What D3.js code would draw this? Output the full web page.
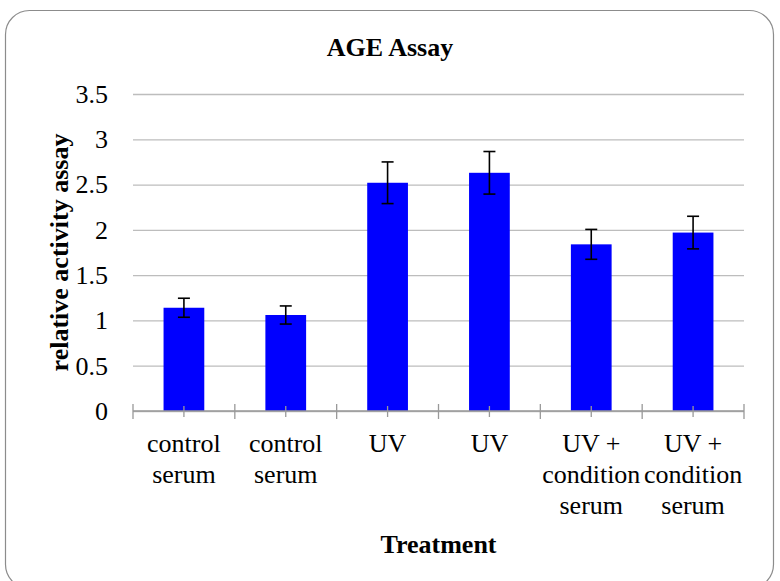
<!DOCTYPE html>
<head>
    <meta charset="UTF-8">
    <title>AGE Assay</title>
    <style>
        body { margin: 0; background: #fff; }
        svg text { font-family: "Liberation Serif", "Times New Roman", Times, serif !important; }
    </style>
</head>
<body>
    <script src="https://d3js.org/d3.v7.min.js"></script>
    <script>
        // data
        var labelLines = [
            ["control", "serum"],
            ["control", "serum"],
            ["UV"],
            ["UV"],
            ["UV +", "condition", "serum"],
            ["UV +", "condition", "serum"]
        ]
        var values = [1.14, 1.06, 2.52, 2.63, 1.84, 1.97]
        var errors = [0.105, 0.10, 0.23, 0.235, 0.165, 0.18]
        var yTicks = [0, 0.5, 1, 1.5, 2, 2.5, 3, 3.5]

        var width = 780
        var height = 581
        var plot = { left: 133, right: 744, top: 94, bottom: 411 } // plot area
        var serif = "Liberation Serif, Times New Roman, serif"

        var svg = d3.select("body")
            .append("svg")
            .attr("width", width)
            .attr("height", height)
            .attr("font-family", serif)

        // rounded frame
        svg.append("rect")
            .attr("x", 5.5).attr("y", 10.5)
            .attr("width", 768).attr("height", 578)
            .attr("rx", 24)
            .attr("fill", "#fff")
            .attr("stroke", "#8c8c8c")
            .attr("stroke-width", 1.2)

        var x = d3.scaleBand()
            .domain(d3.range(values.length))
            .range([plot.left, plot.right])
            .paddingInner(0.6)
            .paddingOuter(0.3)

        var y = d3.scaleLinear()
            .domain([0, 3.5])
            .range([plot.bottom, plot.top])

        // gridlines + y labels
        var yAxis = d3.axisLeft(y)
            .tickValues(yTicks)
            .tickSize(-(plot.right - plot.left))
            .tickPadding(25)
            .tickFormat(d3.format("~g"))

        var gy = svg.append("g")
            .attr("transform", "translate(" + plot.left + ",0)")
            .call(yAxis)
            .attr("font-family", serif)
            .attr("font-size", 26)
        gy.select(".domain").remove()
        gy.selectAll(".tick line").attr("stroke", "#bdbdbd").attr("stroke-width", 1.3)
        gy.selectAll(".tick text")
            .attr("fill", "#000")
            .attr("font-family", serif)

        // bars
        svg.selectAll("rect.bar").data(values).enter()
            .append("rect")
            .attr("class", "bar")
            .attr("x", function(d, i) { return x(i) })
            .attr("y", function(d) { return y(d) })
            .attr("width", x.bandwidth())
            .attr("height", function(d) { return y(0) - y(d) })
            .attr("fill", "#0000ff")

        // x axis line and ticks
        svg.append("line")
            .attr("x1", plot.left).attr("x2", plot.right)
            .attr("y1", plot.bottom).attr("y2", plot.bottom)
            .attr("stroke", "#999").attr("stroke-width", 1.3)

        var bounds = d3.range(values.length + 1).map(function(i) {
            return x.range()[0] + i * x.step()
        })
        svg.selectAll("line.btick").data(bounds).enter()
            .append("line")
            .attr("x1", function(d) { return d }).attr("x2", function(d) { return d })
            .attr("y1", plot.bottom - 7).attr("y2", plot.bottom + 8)
            .attr("stroke", "#999").attr("stroke-width", 1.3)

        svg.selectAll("line.ctick").data(values).enter()
            .append("line")
            .attr("x1", function(d, i) { return x(i) + x.bandwidth() / 2 })
            .attr("x2", function(d, i) { return x(i) + x.bandwidth() / 2 })
            .attr("y1", plot.bottom - 5).attr("y2", plot.bottom + 6)
            .attr("stroke", "#999").attr("stroke-width", 1.3)

        // error bars
        var capW = 6
        var eb = svg.selectAll("g.err").data(values).enter()
            .append("g")
            .attr("stroke", "#000")
            .attr("stroke-width", 1.6)
        eb.append("line")
            .attr("x1", function(d, i) { return x(i) + x.bandwidth() / 2 })
            .attr("x2", function(d, i) { return x(i) + x.bandwidth() / 2 })
            .attr("y1", function(d, i) { return y(d + errors[i]) })
            .attr("y2", function(d, i) { return y(d - errors[i]) })
        eb.append("line")
            .attr("x1", function(d, i) { return x(i) + x.bandwidth() / 2 - capW })
            .attr("x2", function(d, i) { return x(i) + x.bandwidth() / 2 + capW })
            .attr("y1", function(d, i) { return y(d + errors[i]) })
            .attr("y2", function(d, i) { return y(d + errors[i]) })
        eb.append("line")
            .attr("x1", function(d, i) { return x(i) + x.bandwidth() / 2 - capW })
            .attr("x2", function(d, i) { return x(i) + x.bandwidth() / 2 + capW })
            .attr("y1", function(d, i) { return y(d - errors[i]) })
            .attr("y2", function(d, i) { return y(d - errors[i]) })

        // category labels
        var lab = svg.selectAll("text.cat").data(labelLines).enter()
            .append("text")
            .attr("class", "cat")
            .attr("text-anchor", "middle")
            .attr("font-family", serif)
            .attr("font-size", "26px")
            .attr("fill", "#000")
        lab.selectAll("tspan").data(function(d, i) {
                return d.map(function(s) { return { s: s, i: i } })
            }).enter()
            .append("tspan")
            .attr("x", function(d) { return x(d.i) + x.bandwidth() / 2 })
            .attr("y", function(d, j) { return 452 + j * 31 })
            .text(function(d) { return d.s })

        // titles
        svg.append("text")
            .attr("x", 390).attr("y", 56)
            .attr("text-anchor", "middle")
            .attr("font-family", serif)
            .attr("font-size", "26px")
            .attr("font-weight", "bold")
            .text("AGE Assay")

        svg.append("text")
            .attr("x", (plot.left + plot.right) / 2).attr("y", 553)
            .attr("text-anchor", "middle")
            .attr("font-family", serif)
            .attr("font-size", "26px")
            .attr("font-weight", "bold")
            .text("Treatment")

        svg.append("text")
            .attr("transform", "translate(68," + ((plot.top + plot.bottom) / 2) + ") rotate(-90)")
            .attr("text-anchor", "middle")
            .attr("font-family", serif)
            .attr("font-size", "26px")
            .attr("font-weight", "bold")
            .text("relative activity assay")
    </script>
</body>
</html>
